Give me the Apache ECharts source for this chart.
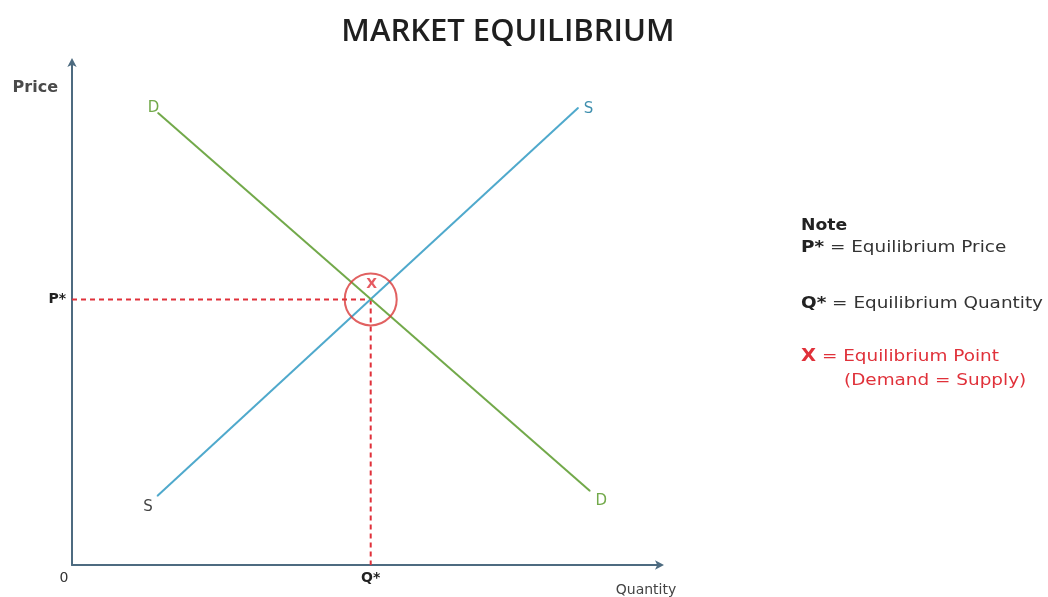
<!DOCTYPE html>
<html>
<head>
<meta charset="utf-8">
<title>Market Equilibrium</title>
<script src="https://cdn.jsdelivr.net/npm/echarts@6/dist/echarts.min.js"></script>
<style>
  html, body { margin: 0; padding: 0; background: #fff; }
  #chart { width: 1048px; height: 597px; }
</style>
</head>
<body>
<div id="chart"></div>
<script>
// Curve end points in (quantity, price) units on a 0–100 scale
const supplyPoints = [[14.5, 13.7], [86.1, 90.9]];
const demandPoints = [[14.6, 89.9], [88.1, 14.7]];
const supplyLabels = ['S', 'S'];
const demandLabels = ['D', 'D'];
// Equilibrium where the two curves cross
const equilibrium = [50.8, 52.8];
const axisTitles = ['Quantity', 'Price'];
const tickLabels = { origin: '0', quantity: 'Q*', price: 'P*' };
const noteLines = ['Note', 'P* = Equilibrium Price', 'Q* = Equilibrium Quantity', 'X = Equilibrium Point', '(Demand = Supply)'];

const FONT = '"DejaVu Sans", "Noto Sans", sans-serif';
const TITLE_FONT = '"Open Sans", "Noto Sans", sans-serif';
const AXIS_COLOR = '#4d6b80';
const SUPPLY_COLOR = '#4fa9cc';
const DEMAND_COLOR = '#72a94a';
const RED = '#e0313a';
const NOTE_STRETCH = 1.15;

const chart = echarts.init(document.getElementById('chart'), null, { renderer: 'canvas' });

const [qStar, pStar] = equilibrium;

// Small end-of-curve letters drawn on the curve's own data points
function endLabels(points, letters, styles) {
  return points.map((p, i) => ({
    value: p,
    label: Object.assign({ show: true, formatter: letters[i], fontFamily: FONT, fontSize: 15 }, styles[i])
  }));
}

// One line of the side note; "{b|key}" marks a bold key
function noteText(x, y, text, opts) {
  const size = opts.size || 16;
  return {
    type: 'text', x: x, y: y, scaleX: NOTE_STRETCH, silent: true,
    style: {
      text: text,
      font: (opts.bold ? 'bold ' : '') + size + 'px ' + FONT,
      fill: opts.fill,
      verticalAlign: 'middle',
      rich: { b: { fontWeight: 'bold', fontFamily: FONT, fontSize: opts.keySize || size, fill: opts.keyFill || opts.fill } }
    }
  };
}

const option = {
  backgroundColor: '#ffffff',
  animation: false,
  title: {
    text: 'MARKET EQUILIBRIUM',
    left: 503,
    top: 12,
    textAlign: 'center',
    textStyle: { fontFamily: TITLE_FONT, fontSize: 31, fontWeight: 600, color: '#1f1f1f' }
  },
  grid: { left: 72, top: 62, width: 588, height: 504 },
  xAxis: {
    type: 'value', min: 0, max: 100,
    name: axisTitles[0],
    nameLocation: 'end',
    nameGap: -14,
    nameTextStyle: { fontFamily: FONT, fontSize: 14, color: '#444', align: 'center', verticalAlign: 'top', padding: [18, 0, 0, 0] },
    axisLine: { show: true, symbol: ['none', 'arrow'], symbolSize: [7, 9], symbolOffset: [0, 4],
      lineStyle: { color: AXIS_COLOR, width: 2 } },
    axisTick: { show: false },
    splitLine: { show: false },
    axisLabel: {
      customValues: [0, qStar],
      formatter: v => (v === 0 ? '{o|' + tickLabels.origin + '}' : '{q|' + tickLabels.quantity + '}'),
      margin: 6,
      rich: {
        o: { fontFamily: FONT, fontSize: 14, color: '#333', padding: [0, 16, 0, 0] },
        q: { fontFamily: FONT, fontSize: 14, color: '#222', fontWeight: 'bold' }
      }
    }
  },
  yAxis: {
    type: 'value', min: 0, max: 100,
    name: axisTitles[1],
    nameLocation: 'end',
    nameGap: -26,
    nameTextStyle: { fontFamily: FONT, fontSize: 16, fontWeight: 'bold', color: '#4a4a4a', align: 'right', verticalAlign: 'middle', padding: [0, 14, 0, 0] },
    axisLine: { show: true, symbol: ['none', 'arrow'], symbolSize: [7, 9], symbolOffset: [0, 4],
      lineStyle: { color: AXIS_COLOR, width: 2 } },
    axisTick: { show: false },
    splitLine: { show: false },
    axisLabel: {
      customValues: [pStar],
      formatter: () => tickLabels.price,
      fontFamily: FONT, fontSize: 14, color: '#222', fontWeight: 'bold', margin: 6
    }
  },
  series: [
    {
      name: 'Supply', type: 'line', silent: true,
      data: endLabels(supplyPoints, supplyLabels, [
        { position: 'left', distance: 3, offset: [-1, 11], color: '#444' },
        { position: 'right', distance: 5, offset: [0, 1], color: '#3f8fae' }
      ]),
      symbol: 'circle', showSymbol: true, symbolSize: 1,
      itemStyle: { color: SUPPLY_COLOR },
      lineStyle: { color: SUPPLY_COLOR, width: 2 },
      z: 3
    },
    {
      name: 'Demand', type: 'line', silent: true,
      data: endLabels(demandPoints, demandLabels, [
        { position: 'left', distance: 0, offset: [2, -5], color: DEMAND_COLOR },
        { position: 'right', distance: 5, offset: [0, 10], color: DEMAND_COLOR }
      ]),
      symbol: 'circle', showSymbol: true, symbolSize: 1,
      itemStyle: { color: DEMAND_COLOR },
      lineStyle: { color: DEMAND_COLOR, width: 2 },
      z: 3
    },
    {
      name: 'Price guide', type: 'line', silent: true,
      data: [[0, pStar], [qStar, pStar]],
      symbol: 'none',
      lineStyle: { color: RED, width: 2, type: [5, 4] },
      z: 2
    },
    {
      name: 'Quantity guide', type: 'line', silent: true,
      data: [[qStar, pStar], [qStar, 0]],
      symbol: 'none',
      lineStyle: { color: RED, width: 2, type: [5, 4] },
      z: 2
    },
    {
      name: 'Equilibrium', type: 'scatter', silent: true,
      data: [equilibrium],
      symbol: 'circle', symbolSize: 52,
      itemStyle: { color: 'rgba(0,0,0,0)', borderColor: '#d93a3a', borderWidth: 2 },
      label: {
        show: true, formatter: 'X', position: 'inside', offset: [1, -15],
        color: RED, fontFamily: FONT, fontSize: 14, fontWeight: 'bold'
      },
      z: 4
    }
  ],
  graphic: [
    noteText(801, 226, noteLines[0], { bold: true, size: 15, fill: '#222' }),
    noteText(801, 248, '{b|P*} = Equilibrium Price', { fill: '#333', keyFill: '#222' }),
    noteText(801, 304, '{b|Q*} = Equilibrium Quantity', { fill: '#333', keyFill: '#222' }),
    noteText(801, 357, '{b|X} = Equilibrium Point', { fill: RED, keySize: 17 }),
    noteText(844, 381, noteLines[4], { fill: RED })
  ]
};

chart.setOption(option);
</script>
</body>
</html>
